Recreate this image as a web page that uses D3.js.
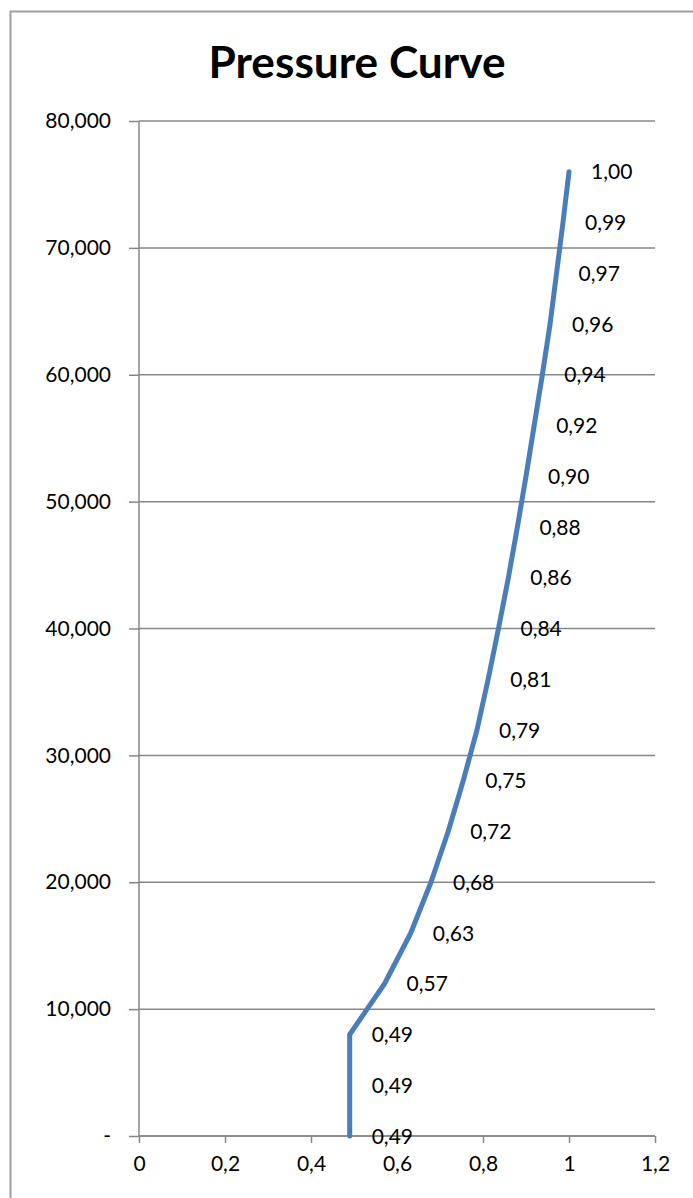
<!DOCTYPE html>
<html>
<head>
<meta charset="utf-8">
<script src="https://cdn.jsdelivr.net/npm/d3@7"></script>
<style>
body { margin: 0; background: #fff; }
svg { display: block; font-family: Lato, "Open Sans", sans-serif; }
</style>
</head>
<body>
<svg id="chart" width="693" height="1198"></svg>
<script>
// pressure values (y) and their factor (x), bottom to top
var pressure = [0, 4000, 8000, 12000, 16000, 20000, 24000, 28000, 32000, 36000,
	40000, 44000, 48000, 52000, 56000, 60000, 64000, 68000, 72000, 76000];
var factor = [0.49, 0.49, 0.49, 0.571, 0.632, 0.679, 0.719, 0.754, 0.786, 0.812,
	0.836, 0.859, 0.880, 0.900, 0.919, 0.938, 0.956, 0.971, 0.986, 1.00];
var xTicks = [0, 0.2, 0.4, 0.6, 0.8, 1, 1.2];
var yTicks = [0, 10000, 20000, 30000, 40000, 50000, 60000, 70000, 80000];

var svg = d3.select("#chart"),
	margin = {top: 121, right: 38, bottom: 62, left: 139},
	width = 693 - margin.left - margin.right,
	height = 1198 - margin.top - margin.bottom;

var gridColor = "#878787";

// outer chart border
svg.append("rect")
	.attr("x", 10.5).attr("y", 11.5)
	.attr("width", 720).attr("height", 1220)
	.attr("fill", "none")
	.attr("stroke", "#a0a0a0")
	.attr("stroke-width", 2);

svg.append("text")
	.attr("x", 357)
	.attr("y", 78)
	.attr("text-anchor", "middle")
	.attr("font-size", "44px")
	.attr("font-weight", "bold")
	.attr("textLength", 297)
	.attr("lengthAdjust", "spacingAndGlyphs")
	.style("fill", "#000")
	.text("Pressure Curve");

var g = svg.append("g").attr("transform", "translate(" + margin.left + "," + margin.top + ")");

var x = d3.scaleLinear().domain([0, 1.2]).range([0, width]);
var y = d3.scaleLinear().domain([0, 80000]).range([height, 0]);

var fmtX = function(d) { return String(d).replace(".", ","); };
var fmtY = function(d) { return d === 0 ? "-" : d3.format(",")(d); };

// horizontal gridlines
g.selectAll(".grid")
	.data(yTicks)
	.enter().append("line")
	.attr("class", "grid")
	.attr("x1", 0).attr("x2", width)
	.attr("y1", function (d) { return y(d); })
	.attr("y2", function (d) { return y(d); })
	.attr("stroke", gridColor)
	.attr("stroke-width", 1.5);

var xAxis = g.append("g")
	.attr("transform", "translate(0," + height + ")")
	.call(d3.axisBottom(x).tickValues(xTicks).tickFormat(fmtX).tickSize(7).tickPadding(13));

var yAxis = g.append("g")
	.call(d3.axisLeft(y).tickValues(yTicks).tickFormat(fmtY).tickSize(10).tickPadding(18));

[xAxis, yAxis].forEach(function (a) {
	a.select(".domain").attr("stroke", gridColor).attr("stroke-width", 1.5);
	a.selectAll(".tick line").attr("stroke", gridColor).attr("stroke-width", 1.5);
	a.selectAll("text")
		.attr("font-size", "21px")
		.attr("font-family", "Lato, 'Open Sans', sans-serif")
		.style("fill", "#000");
});
yAxis.select(".domain").attr("d", "M0," + height + "V0");
xAxis.select(".domain").attr("d", "M0,0H" + width);

var data = pressure.map(function (p, i) { return {p: p, f: factor[i]}; });

var line = d3.line()
	.x(function (d) { return x(d.f); })
	.y(function (d) { return y(d.p); });

g.append("path")
	.datum(data)
	.attr("fill", "none")
	.attr("stroke", "#4a7ebb")
	.attr("stroke-width", 5)
	.attr("stroke-linejoin", "round")
	.attr("stroke-linecap", "round")
	.attr("d", line);

g.selectAll(".lbl")
	.data(data)
	.enter().append("text")
	.attr("class", "lbl")
	.attr("x", function (d) { return x(d.f) + 22; })
	.attr("y", function (d) { return y(d.p); })
	.attr("dy", "0.36em")
	.attr("font-size", "21px")
	.style("fill", "#000")
	.text(function (d) { return d.f.toFixed(2).replace(".", ","); });
</script>
</body>
</html>
